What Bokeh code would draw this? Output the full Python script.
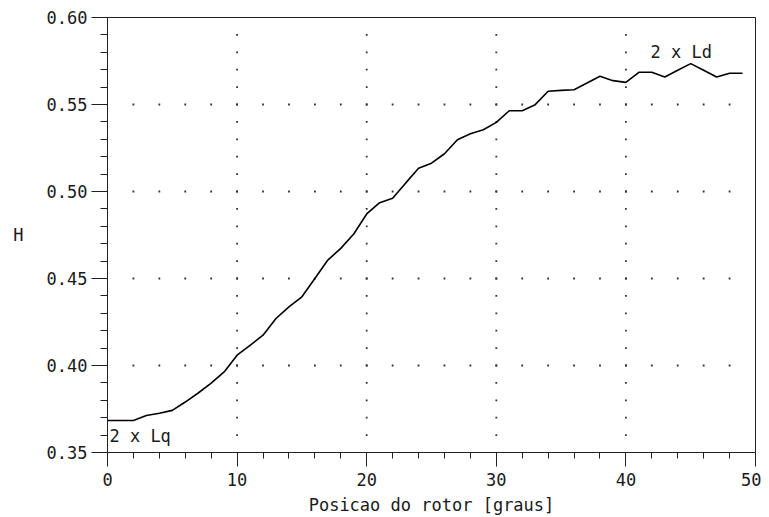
import numpy as np
from bokeh.plotting import figure
from bokeh.models import Range1d, FixedTicker, PrintfTickFormatter, Label
from bokeh.embed import file_html
from bokeh.resources import INLINE

# ---- data ----
angle_deg = list(range(0, 50))
inductance_H = [
    0.3684, 0.3684, 0.3684, 0.3713, 0.3726, 0.3742, 0.3790, 0.3842, 0.3899, 0.3963,
    0.4059, 0.4116, 0.4174, 0.4270, 0.4337, 0.4395, 0.4500, 0.4606, 0.4673, 0.4756,
    0.4871, 0.4936, 0.4961, 0.5048, 0.5134, 0.5163, 0.5217, 0.5297, 0.5332, 0.5355,
    0.5397, 0.5464, 0.5464, 0.5499, 0.5576, 0.5581, 0.5585, 0.5624, 0.5662, 0.5637,
    0.5627, 0.5685, 0.5685, 0.5658, 0.5697, 0.5735, 0.5697, 0.5658, 0.5680, 0.5680,
]
x_major_ticks = [0, 10, 20, 30, 40, 50]
x_minor_ticks = [0, 2, 4, 6, 8, 10, 12, 14, 16, 18, 20, 22, 24, 26, 28, 30,
                 32, 34, 36, 38, 40, 42, 44, 46, 48, 50]
y_major_ticks = [0.35, 0.40, 0.45, 0.50, 0.55, 0.60]
y_minor_ticks = [round(0.35 + 0.01 * i, 2) for i in range(26)]
x_label = "Posicao do rotor [graus]"
y_label = "H"
label_low = "2 x Lq"
label_high = "2 x Ld"

FONT = "DejaVu Sans Mono"
INK = "#1a1a1a"

p = figure(frame_width=648, frame_height=435,
           x_range=Range1d(0, 50), y_range=Range1d(0.35, 0.60),
           output_backend="svg", toolbar_location=None,
           min_border_left=107, min_border_top=17, min_border_right=6, min_border_bottom=58,
           background_fill_color="white", border_fill_color="white")
p.outline_line_color = "#222222"
p.outline_line_width = 1
p.grid.visible = False

# dotted grid: dots at minor-tick positions along inner major grid lines
gx, gy = [], []
for xv in x_major_ticks[1:-1]:
    for yv in y_minor_ticks[1:-1]:
        gx.append(xv); gy.append(yv)
for yv in y_major_ticks[1:-1]:
    for xv in x_minor_ticks[1:-1]:
        gx.append(xv); gy.append(yv)
p.scatter(gx, gy, marker="square", size=1.8, fill_color="#333333", line_color=None)

p.line(angle_deg, inductance_H, line_color="black", line_width=1.6)

for ax in (p.xaxis[0], p.yaxis[0]):
    ax.axis_line_color = "#222222"
    ax.major_tick_line_color = "#222222"
    ax.minor_tick_line_color = "#222222"
    ax.major_tick_in = 0
    ax.minor_tick_in = 0
    ax.major_label_text_font = FONT
    ax.major_label_text_font_size = "17px"
    ax.major_label_text_color = INK
    ax.axis_label_text_font = FONT
    ax.axis_label_text_font_size = "17px"
    ax.axis_label_text_font_style = "normal"
    ax.axis_label_text_color = INK

p.xaxis.ticker = FixedTicker(ticks=x_major_ticks, minor_ticks=x_minor_ticks)
p.yaxis.ticker = FixedTicker(ticks=y_major_ticks, minor_ticks=y_minor_ticks)
p.yaxis.formatter = PrintfTickFormatter(format="%.2f")

p.xaxis.major_tick_out = 14
p.xaxis.minor_tick_out = 6
p.xaxis.major_label_standoff = 6
p.xaxis.axis_label = x_label
p.xaxis.axis_label_standoff = 6

p.yaxis.major_tick_out = 16
p.yaxis.minor_tick_out = 7
p.yaxis.major_label_standoff = 4
p.yaxis.axis_label = y_label
p.yaxis.axis_label_standoff = 20
p.yaxis.axis_label_orientation = "horizontal"

p.add_layout(Label(x=0.15, y=0.3592, text=label_low, text_font=FONT,
                   text_font_size="17px", text_color=INK, text_baseline="middle"))
p.add_layout(Label(x=41.9, y=0.580, text=label_high, text_font=FONT,
                   text_font_size="17px", text_color=INK, text_baseline="middle"))

open("out.html", "w").write(file_html(p, INLINE))
